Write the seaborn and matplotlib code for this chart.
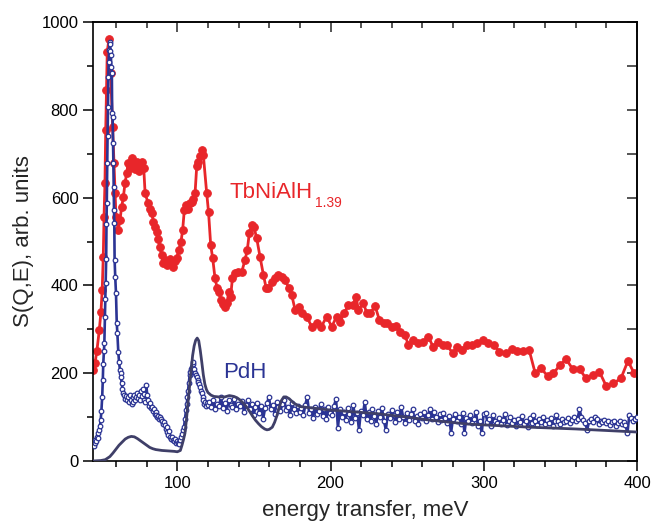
import numpy as np
import pandas as pd
import matplotlib
matplotlib.use("Agg")
import matplotlib.pyplot as plt
import seaborn as sns
from matplotlib.ticker import MultipleLocator

# TbNiAlH1.39 spectrum (red, filled circles)
red_energy = [45, 46.3, 47.5, 49.1, 50.2, 51.0, 51.7, 52.2, 52.8, 53.3,
              53.8, 54.3, 55.4, 56.5, 57.8, 58.7, 59.4, 60.0, 61.5, 62.6,
              63.7, 64.8, 65.9, 67.0, 68.0, 69.2, 70.3, 71.4, 72.5, 73.6,
              74.7, 75.8, 77.0, 78.1, 79.0, 81.0, 82.2, 83.3, 84.4, 85.5,
              86.6, 87.6, 88.7, 89.8, 90.9, 92.0, 93.1, 94.2, 95.3, 96.4,
              97.5, 98.6, 99.6, 101.1, 102.4, 103.5, 104.6, 105.8, 107.0, 108.2,
              109.4, 110.5, 111.6, 112.7, 113.7, 115.0, 116.0, 117.0, 119.2, 120.4,
              121.8, 123.1, 124.6, 126.0, 127.2, 128.4, 129.8, 131.2, 132.4, 133.6,
              134.8, 136.0, 137.7, 139.9, 142.0, 144.2, 145.7, 147.0, 148.6, 150.0,
              151.8, 154.0, 156.2, 158.0, 159.5, 161.6, 163.8, 166.0, 168.2, 170.4,
              172.6, 174.7, 176.9, 179.7, 181.2, 184.5, 187.7, 191.0, 194.0, 197.5,
              200.8, 204.0, 206.2, 208.8, 211.6, 214.5, 216.7, 218.2, 221.5, 223.7,
              225.8, 229.1, 231.9, 235.0, 237.0, 239.9, 242.7, 245.4, 248.6, 250.8,
              254.0, 257.0, 260.5, 263.8, 267.0, 270.4, 273.5, 276.0, 279.8, 282.8,
              286.0, 289.0, 292.3, 295.6, 299.3, 303.0, 306.7, 310.2, 314.6, 318.3,
              322.0, 325.8, 329.6, 333.5, 337.4, 341.6, 345.5, 349.8, 353.8, 358.1,
              362.5, 366.8, 371.6, 375.5, 379.9, 384.6, 389.5, 394.1, 398.1]
red_s = [207, 223, 250, 298, 340, 390, 465, 556, 633, 754,
         845, 932, 961, 884, 761, 679, 610, 556, 526, 549,
         579, 601, 633, 656, 679, 668, 690, 672, 665, 680,
         660, 672, 682, 668, 610, 587, 575, 565, 545, 532,
         522, 505, 488, 469, 451, 458, 447, 455, 460, 450,
         443, 455, 462, 481, 499, 526, 572, 583, 575, 588,
         590, 597, 610, 672, 681, 695, 708, 697, 610, 567,
         492, 462, 417, 394, 385, 367, 358, 351, 360, 385,
         374, 417, 428, 430, 430, 458, 481, 519, 538, 533,
         508, 465, 424, 394, 394, 408, 416, 424, 420, 412,
         395, 378, 344, 351, 337, 329, 306, 314, 306, 329,
         306, 329, 317, 336, 355, 355, 374, 344, 360, 336,
         336, 353, 321, 315, 315, 306, 308, 294, 287, 264,
         275, 268, 270, 283, 260, 272, 264, 264, 245, 259,
         253, 264, 264, 269, 275, 269, 264, 249, 245, 254,
         251, 251, 253, 201, 211, 194, 200, 219, 232, 209,
         209, 188, 196, 203, 171, 177, 188, 228, 200]

# PdH spectrum (blue, open circles): fine bins on the peak, then regular bins
pdh_peak_energy = [45.0, 45.5, 46.0, 46.5, 47.0, 47.5, 48.0, 48.5, 49.0, 49.5,
                   50.0, 50.5, 51.0, 51.4, 51.7, 52.1, 52.4, 52.8, 53.1, 53.3,
                   53.6, 53.8, 54.0, 54.3, 54.5, 54.8, 55.0, 55.2, 55.5, 55.8,
                   56.1, 56.4, 56.6, 57.0, 57.3, 57.5, 57.8, 58.1, 58.3, 58.5,
                   58.7, 58.9, 59.1, 59.5, 60.0, 60.5, 60.9, 61.5, 62.0, 62.6,
                   63.0, 63.3, 63.7, 64.2, 64.8, 65.4, 66.0, 66.6, 67.2, 67.8,
                   68.4, 69.0, 69.6, 70.2, 70.8, 71.4, 72.0, 72.6, 73.2, 73.8,
                   74.4, 75.0, 75.6, 76.2, 76.8, 77.4, 78.0, 78.6, 79.2, 79.8,
                   80.4, 81.0, 81.6, 82.2, 82.8, 83.4, 84.0, 84.6, 85.2, 85.8,
                   86.4, 87.0, 87.6, 88.2, 88.8, 89.4, 90.0, 90.6, 91.2, 91.8,
                   92.4, 93.0, 93.6, 94.2, 94.8, 95.4, 96.0, 96.6, 97.2, 97.8,
                   98.4, 99.0, 99.6, 100.2, 100.8, 101.4, 102.0, 102.6, 103.2, 103.8,
                   104.4, 105.0, 105.7, 106.2, 106.6, 107.0, 107.5, 108.0, 108.3, 108.8,
                   109.4, 110.0, 110.5, 111.0, 111.3, 112.0, 112.7, 113.2, 113.7, 114.2,
                   114.8, 115.3, 115.9, 116.5, 117.0, 117.6, 118.2, 118.8, 119.4, 120.0]
pdh_peak_s = [40, 35, 42, 48, 45, 55, 52, 63, 70, 80,
              93, 115, 146, 185, 222, 250, 268, 329, 370, 405,
              460, 540, 587, 678, 740, 807, 875, 910, 936, 955,
              951, 935, 925, 898, 884, 793, 784, 724, 678, 625,
              572, 542, 458, 420, 382, 314, 291, 249, 225, 207,
              200, 192, 177, 165, 155, 150, 142, 148, 138, 145,
              135, 150, 140, 130, 145, 135, 150, 140, 146, 155,
              143, 150, 138, 160, 148, 165, 140, 152, 135, 172,
              150, 138, 125, 132, 120, 124, 115, 118, 108, 112,
              104, 100, 103, 95, 100, 96, 92, 85, 88, 82,
              72, 78, 65, 60, 68, 55, 50, 55, 48, 45,
              50, 42, 46, 40, 44, 38, 48, 55, 62, 70,
              78, 95, 116, 130, 146, 160, 177, 195, 203, 210,
              215, 220, 226, 210, 200, 196, 192, 185, 181, 175,
              169, 160, 154, 145, 139, 130, 135, 125, 132, 128]
# 121 .. 400 meV, regular bins
pdh_tail_s = [135, 122, 140, 118, 130, 126, 145, 120, 132, 115, 138, 128, 124, 142, 119, 130,
              125, 136, 112, 128, 140, 118, 130, 104, 122, 133, 110, 126, 96, 120, 131, 146,
              118, 128, 108, 135, 122, 113, 130, 140, 116, 124, 105, 132, 118, 110, 126, 112,
              120, 104, 128, 146, 110, 118, 98, 124, 108, 115, 130, 102, 118, 96, 122, 110,
              105, 126, 142, 76, 118, 100, 112, 94, 120, 106, 88, 128, 98, 110, 71, 115,
              104, 135, 96, 112, 90, 118, 102, 84, 114, 100, 120, 92, 71, 108, 98, 116,
              104, 88, 112, 96, 124, 100, 86, 110, 94, 106, 118, 92, 102, 84, 108, 98,
              112, 90, 104, 118, 96, 112, 100, 88, 106, 94, 110, 98, 86, 102, 64, 96,
              108, 92, 100, 84, 110, 64, 98, 90, 104, 86, 96, 112, 80, 92, 63, 108,
              110, 88, 96, 80, 104, 92, 86, 98, 84, 94, 106, 82, 90, 100, 86, 94,
              80, 96, 88, 102, 84, 92, 78, 98, 86, 104, 90, 82, 96, 88, 100, 84,
              94, 86, 98, 80, 90, 104, 92, 84, 96, 88, 92, 98, 86, 94, 100, 90,
              96, 118, 100, 94, 86, 71, 90, 96, 88, 100, 96, 84, 92, 88, 94, 86,
              90, 82, 88, 92, 80, 86, 90, 84, 88, 82, 63, 105, 98, 92, 96, 100]
pdh_tail_energy = np.linspace(121, 400, len(pdh_tail_s))

# calculated PdH spectrum (dark line)
calc_energy = [45, 50, 53, 56, 58, 60, 62, 64, 66, 68, 70, 72, 74, 76, 78, 80, 82, 84, 86, 88,
               90, 94, 98, 100, 102, 103, 104, 105, 106, 107, 108, 109, 110, 111, 112, 113, 114,
               115, 116, 117, 118, 119, 120, 122, 124, 127, 131, 134, 137, 139, 141, 143, 145,
               147, 149, 151, 153, 155, 157, 158.5, 160, 162, 163.5, 165, 166.5, 168, 169.5,
               171, 173, 176, 180, 190, 200, 215, 230, 250, 265, 290, 330, 360, 400]
calc_s = [0, 1, 3, 10, 18, 27, 36, 43, 50, 54, 56, 55, 51, 46, 41, 36, 31, 28, 26, 25,
          24, 23, 22, 21, 24, 35, 48, 63, 95, 133, 170, 205, 240, 262, 275, 280, 274,
          252, 225, 196, 175, 163, 156, 150, 147, 146, 146, 149, 147, 144, 139, 132, 124,
          114, 103, 93, 85, 78, 73, 71, 72, 77, 88, 103, 122, 138, 146,
          146, 142, 132, 124, 120, 116, 112, 108, 100, 93, 84, 77, 73, 66]

red = "#e8262a"
blue = "#2b3494"
dark = "#3f3f68"

sns.set_theme(style="ticks")
plt.rcParams['font.family'] = ['Liberation Sans', 'DejaVu Sans']

red_df = pd.DataFrame({"E": red_energy, "S": red_s})
pdh_df = pd.DataFrame({"E": list(pdh_peak_energy) + list(pdh_tail_energy),
                       "S": pdh_peak_s + pdh_tail_s})
calc_df = pd.DataFrame({"E": calc_energy, "S": calc_s})

fig = plt.figure(figsize=(6.52, 5.24), dpi=100)
ax = fig.add_axes([93 / 652, 63 / 524, 544 / 652, 439 / 524])

sns.lineplot(data=red_df, x="E", y="S", ax=ax, color=red, lw=2.0, marker="o",
             markersize=5.5, markeredgecolor=red, markerfacecolor=red,
             sort=False, estimator=None, zorder=2)
sns.lineplot(data=pdh_df, x="E", y="S", ax=ax, color=blue, lw=1.9, marker="o",
             markersize=3.3, markeredgecolor=blue, markerfacecolor="white",
             markeredgewidth=0.9, sort=False, estimator=None, zorder=3)
sns.lineplot(data=calc_df, x="E", y="S", ax=ax, color=dark, lw=2.0,
             sort=False, estimator=None, zorder=4)

ax.set_xlim(45, 400)
ax.set_ylim(0, 1000)
ax.xaxis.set_major_locator(MultipleLocator(100))
ax.xaxis.set_minor_locator(MultipleLocator(20))
ax.yaxis.set_major_locator(MultipleLocator(200))
ax.yaxis.set_minor_locator(MultipleLocator(100))

for s in ax.spines.values():
    s.set_visible(True)
    s.set_linewidth(1.2)
    s.set_color("black")

ax.tick_params(which="both", direction="out", top=False, right=False,
               labelsize=12, colors="black", width=1.1)
ax.tick_params(which="major", length=7)
ax.tick_params(which="minor", length=4.5)

# mirrored ticks pointing inward on top and right
sec_x = ax.secondary_xaxis("top")
sec_x.xaxis.set_major_locator(MultipleLocator(100))
sec_x.xaxis.set_minor_locator(MultipleLocator(20))
sec_x.tick_params(which="both", direction="in", labeltop=False, width=1.1)
sec_x.tick_params(which="major", length=7)
sec_x.tick_params(which="minor", length=4.5)
sec_y = ax.secondary_yaxis("right")
sec_y.yaxis.set_major_locator(MultipleLocator(100))
sec_y.tick_params(which="both", direction="in", labelright=False, width=1.1, length=7)

ax.set_xlabel("energy transfer, meV", fontsize=16, labelpad=7)
ax.set_ylabel("S(Q,E), arb. units", fontsize=16, labelpad=5)

ax.text(134.4, 600, "TbNiAlH", color=red, fontsize=16, ha="left", va="baseline")
ax.text(189.8, 579, "1.39", color=red, fontsize=10, ha="left", va="baseline")
ax.text(129.7, 188, "PdH", color=blue, fontsize=16, ha="left", va="baseline")

fig.savefig("out.png", dpi=100)
